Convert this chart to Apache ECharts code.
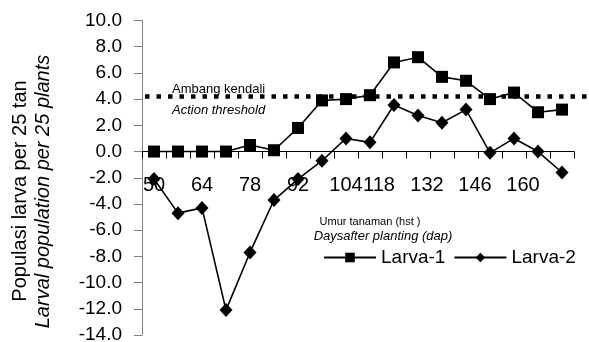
<!DOCTYPE html>
<html><head><meta charset="utf-8">
<script src="https://cdn.jsdelivr.net/npm/echarts@6/dist/echarts.min.js"></script>
<style>html,body{margin:0;padding:0;background:#fff}#c{width:589px;height:342px}</style>
</head><body><div id="c"></div>
<script>
const days = ['50','57','64','71','78','85','92','98','104','111','118','125','132','139','146','153','160','167'];
const larva1 = [0,0,0,0,0.5,0.1,1.8,3.9,4.0,4.3,6.8,7.2,5.7,5.4,4.0,4.5,3.0,3.2];
const larva2 = [-2.1,-4.7,-4.3,-12.1,-7.7,-3.7,-2.1,-0.7,1.0,0.7,3.55,2.75,2.2,3.2,-0.1,1.0,0.0,-1.6];
const yMin = -14, yMax = 10, yStep = 2;
const threshold = 4.2;
const seriesNames = ['Larva-1','Larva-2'];
const yTitle1 = 'Populasi larva per 25 tan';
const yTitle2 = 'Larval population per 25 plants';
const xTitle1 = 'Umur tanaman (hst )';
const xTitle2 = 'Daysafter planting (dap)';
const thrText1 = 'Ambang kendali';
const thrText2 = 'Action threshold';

const FONT = "'Liberation Sans', Arial, sans-serif";
const chart = echarts.init(document.getElementById('c'), null, {renderer:'canvas'});
const option = {
  animation:false,
  backgroundColor:'#fff',
  grid:{left:142, right:15, top:20.5, bottom:7, containLabel:false, outerBoundsMode:'none'},
  legend:{
    data:seriesNames, left:318, top:243, itemWidth:52, itemHeight:12, itemGap:8,
    textStyle:{fontFamily:FONT, fontSize:19, color:'#000'}
  },
  xAxis:{
    type:'category', data:days, boundaryGap:true, position:'bottom', offset:0,
    axisLine:{onZero:false, lineStyle:{color:'#000', width:1}},
    axisTick:{show:true, interval:0, length:7, lineStyle:{color:'#000'}},
    axisLabel:{interval:1, margin:24, fontFamily:FONT, fontSize:20, color:'#000',
      formatter:(v, i) => i >= 10 ? '{s|' + v + '}' : '{n|' + v + '}',
      rich:{
        n:{fontFamily:FONT, fontSize:20, color:'#000'},
        s:{fontFamily:FONT, fontSize:20, color:'#000', padding:[0,30,0,0]}
      }},
    splitLine:{show:false}
  },
  yAxis:{
    type:'value', min:yMin, max:yMax, interval:yStep,
    axisLine:{show:true, lineStyle:{color:'#808080', width:1}},
    axisTick:{show:true, length:8, lineStyle:{color:'#808080'}},
    axisLabel:{margin:20, fontFamily:FONT, fontSize:19, color:'#000', formatter:v=>v.toFixed(1)},
    splitLine:{show:false}
  },
  series:[
    {name:seriesNames[0], type:'line', data:larva1, symbol:'rect', symbolSize:12,
     lineStyle:{color:'#000', width:1.6}, itemStyle:{color:'#000'}, z:3},
    {name:seriesNames[1], type:'line', data:larva2, symbol:'diamond', symbolSize:[13,14],
     lineStyle:{color:'#000', width:1.6}, itemStyle:{color:'#000'}, z:3}
  ]
};
chart.setOption(option);
const py = chart.convertToPixel({yAxisIndex:0}, threshold);
const pZero = chart.convertToPixel({yAxisIndex:0}, 0);
const pBottom = chart.convertToPixel({yAxisIndex:0}, yMin);
chart.setOption({
  xAxis:{offset: -(pBottom - pZero)},
  graphic:[
    {type:'line', shape:{x1:145, y1:py, x2:589, y2:py}, style:{stroke:'#000', lineWidth:4.5, lineDash:[4.5,7]}, z:2},
    {type:'text', x:172, y:py-7, style:{text:thrText1, font:"13px "+FONT, fill:'#000', textVerticalAlign:'middle'}},
    {type:'text', x:172, y:py+14, style:{text:thrText2, font:"italic 13px "+FONT, fill:'#000', textVerticalAlign:'middle'}},
    {type:'text', x:370, y:222, style:{text:xTitle1, font:"11px "+FONT, fill:'#000', textAlign:'center', textVerticalAlign:'middle'}},
    {type:'text', x:383, y:236, style:{text:xTitle2, font:"italic 13px "+FONT, fill:'#000', textAlign:'center', textVerticalAlign:'middle'}},
    {type:'text', x:20, y:191, rotation:Math.PI/2, style:{text:yTitle1, font:"20px "+FONT, fill:'#000', textAlign:'center', textVerticalAlign:'middle'}},
    {type:'text', x:43, y:191.5, rotation:Math.PI/2, style:{text:yTitle2, font:"italic 20px "+FONT, fill:'#000', textAlign:'center', textVerticalAlign:'middle'}}
  ]
});
</script></body></html>
